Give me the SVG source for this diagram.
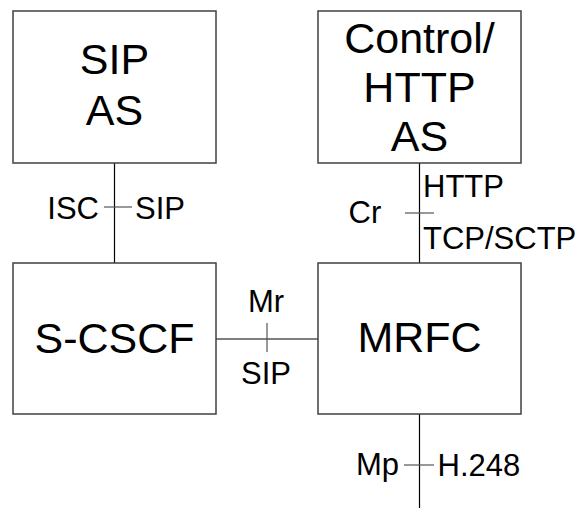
<svg xmlns="http://www.w3.org/2000/svg" width="582" height="510" viewBox="0 0 582 510">
  <style>
    .box { fill: #ffffff; stroke: #404040; stroke-width: 1.5; }
    .link { fill: none; stroke: #000000; stroke-width: 1.2; }
    .tick { fill: none; stroke: #555555; stroke-width: 1.2; }
    .main { font-family: "Liberation Sans", Arial, sans-serif; font-size: 43px; fill: #000000; text-anchor: middle; }
    .lbl { font-family: "Liberation Sans", Arial, sans-serif; font-size: 31px; fill: #000000; }
  </style>
  <rect width="582" height="510" fill="#ffffff"/>

  <!-- Connectors with their interface ticks -->
  <g id="connectors">
    <line class="link" x1="114.5" y1="163" x2="114.5" y2="263"/>
    <line class="tick" x1="104" y1="207" x2="132" y2="207"/>
    <line class="link" x1="419.5" y1="163" x2="419.5" y2="263"/>
    <line class="tick" x1="405" y1="213" x2="434" y2="213"/>
    <line class="link" x1="216" y1="339" x2="318" y2="339"/>
    <line class="tick" x1="267" y1="323" x2="267" y2="352"/>
    <line class="link" x1="419.5" y1="414" x2="419.5" y2="508"/>
    <line class="tick" x1="404" y1="465" x2="434" y2="465"/>
  </g>

  <!-- Interface labels -->
  <g id="labels">
    <text class="lbl" x="99" y="219" text-anchor="end">ISC</text>
    <text class="lbl" x="135" y="219">SIP</text>
    <text class="lbl" x="348.5" y="223">Cr</text>
    <text class="lbl" x="423" y="197">HTTP</text>
    <text class="lbl" x="423" y="249">TCP/SCTP</text>
    <text class="lbl" x="266" y="312" text-anchor="middle">Mr</text>
    <text class="lbl" x="266" y="384" text-anchor="middle">SIP</text>
    <text class="lbl" x="399" y="475" text-anchor="end">Mp</text>
    <text class="lbl" x="437.5" y="476">H.248</text>
  </g>

  <g id="sip-as">
    <rect class="box" x="13" y="11" width="203" height="152"/>
    <text class="main" x="114.5" y="74">SIP</text>
    <text class="main" x="114.5" y="125">AS</text>
  </g>

  <g id="control-http-as">
    <rect class="box" x="318" y="11" width="203" height="152"/>
    <text class="main" x="419.5" y="53">Control/</text>
    <text class="main" x="419.5" y="102">HTTP</text>
    <text class="main" x="419.5" y="151">AS</text>
  </g>

  <g id="s-cscf">
    <rect class="box" x="13" y="263" width="203" height="151"/>
    <text class="main" x="114.5" y="353">S-CSCF</text>
  </g>

  <g id="mrfc">
    <rect class="box" x="318" y="263" width="203" height="151"/>
    <text class="main" x="419.5" y="352">MRFC</text>
  </g>
</svg>
